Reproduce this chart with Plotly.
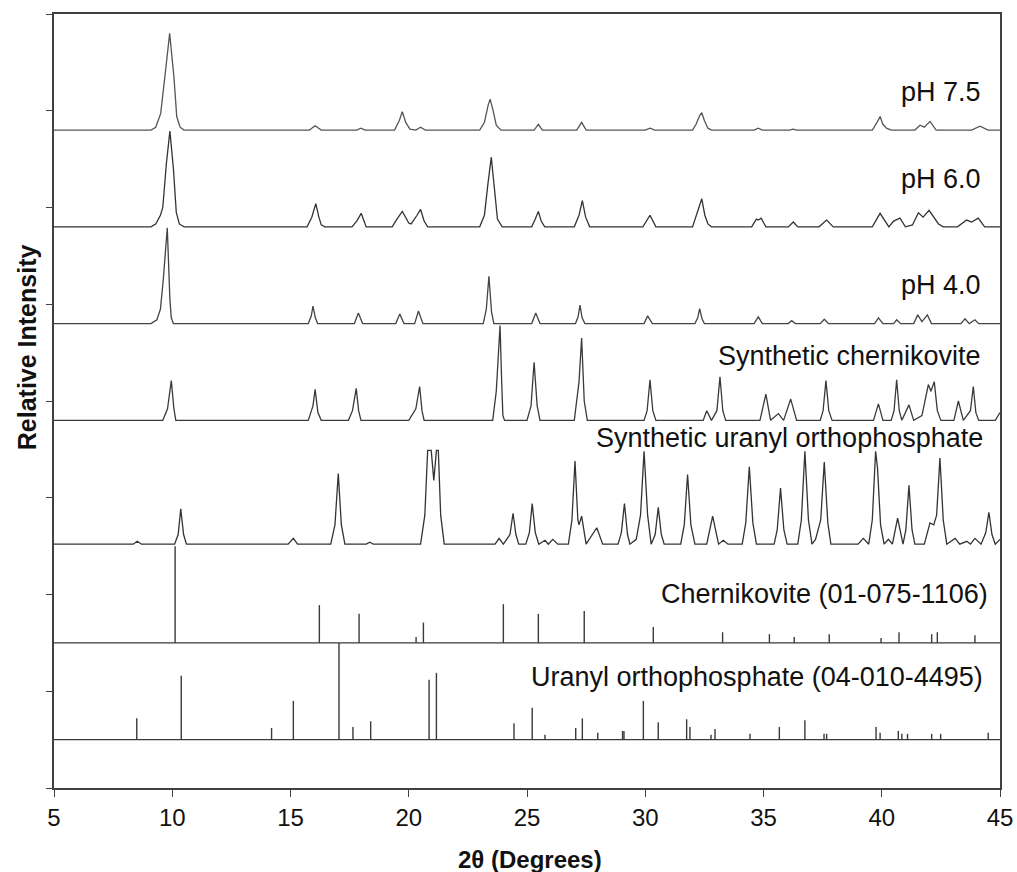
import plotly.graph_objects as go

# ---------------- data ----------------
# Each pattern: traced (2theta, relative intensity above its own baseline)
PH75 = [(5.0, 0), (9.1, 0), (9.3, 0.03), (9.51, 0.17), (9.72, 0.62), (9.89, 1.0), (10.07, 0.55), (10.19, 0.14),
        (10.33, 0.03), (10.5, 0),
        (15.8, 0), (16.04, 0.045), (16.3, 0),
        (17.8, 0), (17.98, 0.02), (18.15, 0),
        (19.4, 0), (19.6, 0.1), (19.73, 0.19), (19.87, 0.08), (20.05, 0.01), (20.3, 0), (20.5, 0.03), (20.7, 0),
        (23.0, 0), (23.2, 0.08), (23.35, 0.25), (23.44, 0.32), (23.55, 0.22), (23.7, 0.05), (23.9, 0),
        (25.3, 0), (25.48, 0.06), (25.65, 0),
        (27.1, 0), (27.31, 0.08), (27.5, 0),
        (30.0, 0), (30.2, 0.02), (30.4, 0),
        (32.0, 0), (32.15, 0.06), (32.3, 0.15), (32.39, 0.18), (32.5, 0.1), (32.65, 0.02), (32.8, 0),
        (34.6, 0), (34.78, 0.02), (34.95, 0),
        (36.1, 0), (36.26, 0.01), (36.4, 0),
        (39.6, 0), (39.8, 0.08), (39.93, 0.14), (40.05, 0.06), (40.2, 0.02), (40.4, 0),
        (41.4, 0), (41.62, 0.05), (41.8, 0.03), (42.04, 0.09), (42.3, 0),
        (43.8, 0), (44.15, 0.04), (44.5, 0), (45.0, 0)]

PH60 = [(5.0, 0), (9.1, 0), (9.3, 0.03), (9.5, 0.12), (9.6, 0.2), (9.75, 0.65), (9.9, 0.99), (10.05, 0.6),
        (10.17, 0.15), (10.3, 0.03), (10.5, 0),
        (15.7, 0), (15.9, 0.1), (16.07, 0.24), (16.2, 0.1), (16.3, 0.02), (16.45, 0),
        (17.6, 0), (17.8, 0.06), (17.99, 0.14), (18.2, 0),
        (19.3, 0), (19.5, 0.08), (19.73, 0.16), (20.0, 0.04), (20.1, 0.03), (20.35, 0.12), (20.5, 0.18),
        (20.65, 0.06), (20.8, 0),
        (23.0, 0), (23.2, 0.12), (23.35, 0.45), (23.49, 0.72), (23.6, 0.45), (23.75, 0.08), (23.95, 0),
        (25.2, 0), (25.35, 0.08), (25.48, 0.16), (25.6, 0.06), (25.75, 0),
        (27.0, 0), (27.2, 0.12), (27.34, 0.27), (27.48, 0.1), (27.65, 0),
        (29.9, 0), (30.2, 0.12), (30.45, 0),
        (32.0, 0), (32.2, 0.15), (32.39, 0.29), (32.52, 0.12), (32.65, 0.03), (32.8, 0),
        (34.5, 0), (34.7, 0.08), (34.78, 0.07), (34.9, 0.09), (35.1, 0),
        (36.05, 0), (36.26, 0.05), (36.45, 0),
        (37.35, 0), (37.67, 0.07), (37.95, 0),
        (39.6, 0), (39.93, 0.14), (40.3, 0), (40.5, 0.06), (40.77, 0.09), (41.0, 0), (41.3, 0.02),
        (41.55, 0.145), (41.75, 0.1), (42.0, 0.17), (42.4, 0.03), (42.6, 0),
        (43.2, 0), (43.59, 0.07), (43.8, 0.05), (44.08, 0.09), (44.35, 0), (45.0, 0)]

PH40 = [(5.0, 0), (9.1, 0), (9.35, 0.04), (9.5, 0.15), (9.62, 0.45), (9.79, 0.99), (9.9, 0.25), (9.96, 0.06),
        (10.05, 0),
        (15.75, 0), (15.88, 0.08), (15.95, 0.18), (16.05, 0.06), (16.15, 0),
        (17.7, 0), (17.87, 0.11), (18.05, 0),
        (19.45, 0), (19.62, 0.1), (19.8, 0),
        (20.25, 0), (20.41, 0.13), (20.6, 0),
        (23.15, 0), (23.28, 0.15), (23.39, 0.49), (23.5, 0.12), (23.6, 0),
        (25.2, 0), (25.37, 0.11), (25.55, 0),
        (27.05, 0), (27.16, 0.07), (27.24, 0.19), (27.33, 0.06), (27.45, 0),
        (29.95, 0), (30.1, 0.08), (30.3, 0),
        (32.1, 0), (32.22, 0.06), (32.3, 0.155), (32.4, 0.05), (32.5, 0),
        (34.6, 0), (34.78, 0.07), (34.95, 0),
        (36.05, 0), (36.19, 0.03), (36.35, 0),
        (37.4, 0), (37.57, 0.045), (37.75, 0),
        (39.7, 0), (39.86, 0.06), (40.05, 0),
        (40.5, 0), (40.63, 0.04), (40.8, 0),
        (41.35, 0), (41.52, 0.09), (41.7, 0.02), (41.93, 0.09), (42.1, 0),
        (43.35, 0), (43.52, 0.05), (43.7, 0), (43.94, 0.04), (44.1, 0), (45.0, 0)]

SYN_CHERNIKOVITE = [(5.0, 0), (9.6, 0), (9.8, 0.12), (9.96, 0.41), (10.07, 0.12), (10.15, 0),
        (15.75, 0), (15.95, 0.15), (16.04, 0.32), (16.16, 0.08), (16.3, 0),
        (17.45, 0), (17.62, 0.1), (17.78, 0.33), (17.88, 0.1), (17.98, 0),
        (20.0, 0), (20.2, 0.08), (20.3, 0.12), (20.46, 0.35), (20.56, 0.1), (20.65, 0),
        (23.55, 0), (23.7, 0.3), (23.86, 0.98), (23.93, 0.4), (23.98, 0.05), (24.05, 0),
        (25.0, 0), (25.17, 0.15), (25.3, 0.6), (25.43, 0.15), (25.55, 0),
        (27.0, 0), (27.2, 0.4), (27.31, 0.85), (27.42, 0.2), (27.55, 0),
        (29.95, 0), (30.08, 0.1), (30.2, 0.42), (30.32, 0.1), (30.45, 0),
        (32.45, 0), (32.6, 0.1), (32.8, 0), (33.03, 0.1), (33.16, 0.45), (33.28, 0.1), (33.4, 0),
        (34.85, 0), (35.1, 0.27), (35.3, 0), (35.63, 0.07), (35.85, 0), (36.15, 0.22), (36.4, 0),
        (37.4, 0), (37.52, 0.1), (37.64, 0.41), (37.76, 0.1), (37.9, 0),
        (39.65, 0), (39.86, 0.17), (40.05, 0), (40.4, 0), (40.52, 0.1), (40.63, 0.42), (40.74, 0.1),
        (40.85, 0), (41.15, 0.16), (41.35, 0), (41.7, 0.05), (41.97, 0.37), (42.08, 0.3), (42.22, 0.4),
        (42.35, 0.1), (42.5, 0),
        (43.05, 0), (43.24, 0.2), (43.45, 0), (43.75, 0.1), (43.87, 0.35), (43.98, 0.08), (44.1, 0),
        (44.8, 0), (45.0, 0.08)]

SYN_URANYL_ORTHOPHOSPHATE = [(5.0, 0), (8.35, 0), (8.52, 0.03), (8.7, 0),
        (10.1, 0), (10.25, 0.1), (10.36, 0.365), (10.48, 0.1), (10.6, 0),
        (14.9, 0), (15.12, 0.06), (15.3, 0),
        (16.7, 0), (16.88, 0.2), (17.02, 0.73), (17.15, 0.2), (17.3, 0),
        (18.2, 0), (18.36, 0.02), (18.5, 0),
        (20.5, 0), (20.68, 0.3), (20.8, 0.97), (20.95, 0.97), (21.06, 0.66), (21.17, 0.97), (21.25, 0.97),
        (21.35, 0.3), (21.5, 0),
        (23.65, 0), (23.82, 0.06), (24.0, 0), (24.28, 0.1), (24.41, 0.32), (24.53, 0.1), (24.65, 0),
        (24.95, 0), (25.1, 0.12), (25.22, 0.42), (25.35, 0.12), (25.5, 0), (25.76, 0.04), (25.9, 0),
        (26.09, 0.05), (26.3, 0),
        (26.75, 0), (26.9, 0.25), (27.03, 0.86), (27.15, 0.25), (27.2, 0.2), (27.31, 0.29), (27.5, 0),
        (27.95, 0.17), (28.2, 0),
        (28.85, 0), (28.99, 0.12), (29.12, 0.42), (29.25, 0.1), (29.35, 0), (29.62, 0.05), (29.8, 0.3),
        (29.95, 0.96), (30.1, 0.3), (30.25, 0), (30.42, 0.1), (30.55, 0.38), (30.68, 0.1), (30.8, 0),
        (31.5, 0), (31.65, 0.2), (31.79, 0.72), (31.93, 0.2), (32.1, 0),
        (32.6, 0), (32.85, 0.29), (33.1, 0), (33.3, 0.04), (33.5, 0),
        (34.1, 0), (34.25, 0.22), (34.4, 0.8), (34.55, 0.22), (34.7, 0),
        (35.45, 0), (35.58, 0.15), (35.72, 0.58), (35.86, 0.15), (36.0, 0),
        (36.45, 0), (36.6, 0.25), (36.75, 0.96), (36.9, 0.25), (37.05, 0), (37.2, 0.05), (37.42, 0.25),
        (37.57, 0.85), (37.72, 0.22), (37.85, 0),
        (39.0, 0), (39.22, 0.06), (39.45, 0), (39.6, 0.25), (39.74, 0.96), (39.82, 0.79), (39.95, 0.2),
        (40.1, 0), (40.28, 0.05), (40.45, 0), (40.67, 0.27), (40.9, 0), (41.02, 0.15), (41.15, 0.61),
        (41.28, 0.15), (41.4, 0),
        (41.8, 0), (42.04, 0.22), (42.2, 0.2), (42.32, 0.3), (42.46, 0.89), (42.6, 0.25), (42.75, 0),
        (43.1, 0.06), (43.3, 0), (43.6, 0.03), (43.75, 0), (43.94, 0.06), (44.2, 0), (44.4, 0.12),
        (44.53, 0.33), (44.66, 0.1), (44.8, 0), (45.0, 0.05)]

# Reference stick patterns (2theta, relative intensity)
CHERN_REF_POS = [10.12, 16.22, 17.9, 20.31, 20.62, 24.0, 25.48, 27.42, 30.34, 33.27, 35.25,
                 36.3, 37.78, 39.97, 40.73, 42.11, 42.35, 43.94]
CHERN_REF_INT = [1.0, 0.39, 0.30, 0.06, 0.21, 0.40, 0.30, 0.33, 0.165, 0.11, 0.09,
                 0.06, 0.09, 0.05, 0.11, 0.09, 0.11, 0.08]

UOP_REF_POS = [8.5, 10.38, 14.2, 15.12, 17.05, 17.64, 18.39, 20.86, 21.17, 24.45, 25.22, 25.76,
               27.06, 27.34, 27.99, 29.04, 29.1, 29.92, 30.55, 31.75, 31.89, 32.78, 32.95, 34.43,
               35.67, 36.75, 37.56, 37.67, 39.76, 39.93, 40.7, 40.85, 41.09, 42.11, 42.49, 44.5]
UOP_REF_INT = [0.22, 0.66, 0.12, 0.40, 1.0, 0.13, 0.19, 0.62, 0.69, 0.17, 0.33, 0.05,
               0.12, 0.22, 0.07, 0.09, 0.09, 0.40, 0.18, 0.21, 0.13, 0.05, 0.11, 0.06,
               0.13, 0.20, 0.06, 0.06, 0.13, 0.07, 0.09, 0.06, 0.06, 0.06, 0.06, 0.07]

# stacking offsets of each pattern (relative-intensity units)
PATTERNS = [("pH 7.5", PH75, 6.80, "#555555"), ("pH 6.0", PH60, 5.80, "#333333"),
            ("pH 4.0", PH40, 4.80, "#444444"),
            ("Synthetic chernikovite", SYN_CHERNIKOVITE, 3.80, "#3a3a3a"),
            ("Synthetic uranyl orthophosphate", SYN_URANYL_ORTHOPHOSPHATE, 2.52, "#333333")]
STICKS = [("Chernikovite (01-075-1106)", CHERN_REF_POS, CHERN_REF_INT, 1.5),
          ("Uranyl orthophosphate (04-010-4495)", UOP_REF_POS, UOP_REF_INT, 0.5)]

# label placements (x right edge, y centre) in data units
LABELS = [("pH 7.5", 44.28, 7.19), ("pH 6.0", 44.28, 6.29), ("pH 4.0", 44.28, 5.20),
          ("Synthetic chernikovite", 44.28, 4.465),
          ("Synthetic uranyl orthophosphate", 44.37, 3.615),
          ("Chernikovite (01-075-1106)", 44.58, 2.01),
          ("Uranyl orthophosphate (04-010-4495)", 44.37, 1.15)]

X_TICKS = [5, 10, 15, 20, 25, 30, 35, 40, 45]

# ---------------- figure ----------------
FONT = "Liberation Sans, Arial, sans-serif"
fig = go.Figure()

for name, pts, off, col in PATTERNS:
    xs = [p[0] for p in pts]
    ys = [p[1] + off for p in pts]
    fig.add_trace(go.Scatter(x=xs, y=ys, mode="lines", name=name,
                             line=dict(color=col, width=1.3), hoverinfo="x+name"))

for name, pos, inten, base in STICKS:
    xs = [X_TICKS[0], X_TICKS[-1], None]
    ys = [base, base, None]
    for p, h in zip(pos, inten):
        xs += [p, p, None]
        ys += [base, base + h, None]
    fig.add_trace(go.Scatter(x=xs, y=ys, mode="lines", name=name,
                             line=dict(color="#3a3a3a", width=1.4), hoverinfo="skip"))

for text, x, y in LABELS:
    fig.add_annotation(x=x, y=y, xref="x", yref="y", text=text, showarrow=False,
                       xanchor="right", yanchor="middle",
                       font=dict(family=FONT, size=27, color="#111"))

fig.add_annotation(x=0.503, y=-0.092, xref="paper", yref="paper", text="<b>2θ (Degrees)</b>",
                   showarrow=False, xanchor="center", yanchor="middle",
                   font=dict(family=FONT, size=24, color="#111"))
fig.add_annotation(x=-0.0289, y=0.569, xref="paper", yref="paper", text="<b>Relative Intensity</b>",
                   showarrow=False, textangle=-90, xanchor="center", yanchor="middle",
                   font=dict(family=FONT, size=25, color="#111"))

fig.update_layout(
    width=1017, height=872, autosize=False,
    margin=dict(l=54, r=17, t=14, b=84, autoexpand=False),
    paper_bgcolor="white", plot_bgcolor="white",
    showlegend=False,
    font=dict(family=FONT, color="#111"),
    xaxis=dict(range=[5, 45], tickvals=X_TICKS, ticks="outside", ticklen=7, tickwidth=1.3,
               tickcolor="#404040", showline=True, linecolor="#404040", linewidth=1.5,
               mirror=True, showgrid=False, zeroline=False, automargin=False,
               tickfont=dict(family=FONT, size=24, color="#111")),
    yaxis=dict(range=[0, 8], dtick=1, tick0=0, ticks="outside", ticklen=6, tickwidth=1.2,
               tickcolor="#404040", showticklabels=False, showline=True, linecolor="#404040",
               linewidth=1.5, mirror=True, showgrid=False, zeroline=False, automargin=False),
)

fig.write_html("out.html", config={"responsive": False})
